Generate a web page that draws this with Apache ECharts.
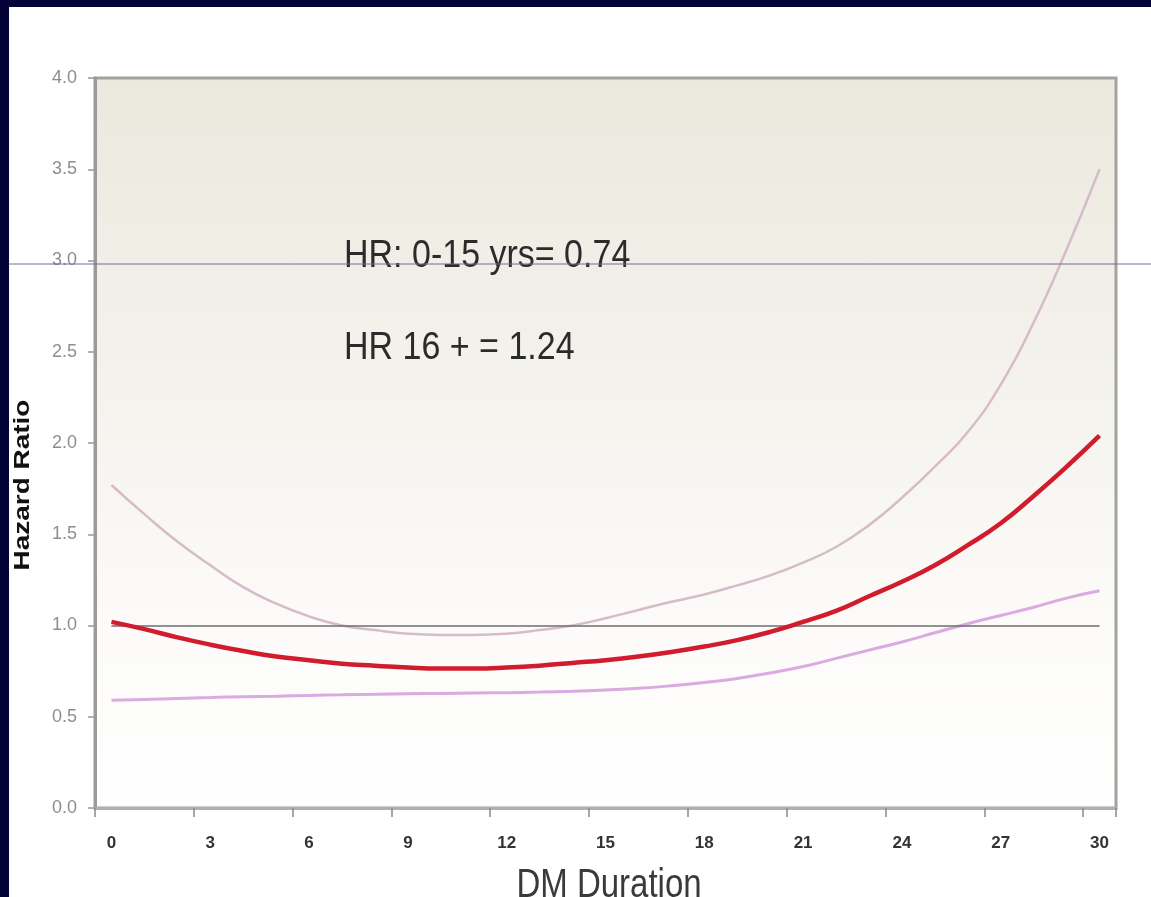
<!DOCTYPE html>
<html>
<head>
<meta charset="utf-8">
<script src="https://cdn.jsdelivr.net/npm/echarts@6/dist/echarts.min.js"></script>
<style>
  html, body { margin: 0; padding: 0; }
  body { width: 1151px; height: 897px; background: #020236; position: relative; overflow: hidden; }
  #page { position: absolute; left: 9px; top: 7px; right: 0; bottom: 0; background: #ffffff; }
  #chart { position: absolute; left: 0; top: 0; width: 1151px; height: 897px; }
</style>
</head>
<body>
<div id="page"></div>
<div id="chart"></div>
<script>
// Diabetes duration in years (one category per year)
const years = ['0','1','2','3','4','5','6','7','8','9','10','11','12','13','14','15',
               '16','17','18','19','20','21','22','23','24','25','26','27','28','29','30'];

// Hazard ratio estimate
const hazard = [1.02, 0.98, 0.935, 0.895, 0.86, 0.83, 0.81, 0.79, 0.78, 0.77, 0.765,
                0.765, 0.77, 0.78, 0.795, 0.81, 0.83, 0.855, 0.885, 0.92, 0.965,
                1.02, 1.08, 1.16, 1.24, 1.33, 1.44, 1.56, 1.71, 1.87, 2.04];

// Upper confidence bound
const upperCI = [1.77, 1.61, 1.46, 1.33, 1.21, 1.12, 1.05, 1.00, 0.975, 0.955, 0.948,
                 0.948, 0.955, 0.975, 1.00, 1.04, 1.085, 1.13, 1.17, 1.22, 1.275,
                 1.345, 1.43, 1.55, 1.70, 1.87, 2.06, 2.32, 2.66, 3.06, 3.50];

// Lower confidence bound
const lowerCI = [0.59, 0.595, 0.60, 0.605, 0.61, 0.613, 0.617, 0.62, 0.623, 0.626, 0.628,
                 0.63, 0.632, 0.635, 0.64, 0.647, 0.656, 0.67, 0.688, 0.71, 0.74,
                 0.775, 0.82, 0.865, 0.91, 0.96, 1.01, 1.055, 1.10, 1.15, 1.19];

const referenceHR = 1.0;
const annotations = ['HR: 0-15 yrs= 0.74', 'HR 16 + = 1.24'];
const xName = 'DM Duration';
const yName = 'Hazard Ratio';

const chart = echarts.init(document.getElementById('chart'), null, { renderer: 'canvas' });

const font = '"Liberation Sans", Arial, sans-serif';

chart.setOption({
  backgroundColor: 'transparent',
  animation: false,
  grid: {
    left: 95, right: 35, top: 78, bottom: 89,
    show: true,
    borderColor: '#a2a49b',
    borderWidth: 3,
    backgroundColor: new echarts.graphic.LinearGradient(0, 0, 0, 1, [
      { offset: 0, color: '#ebe8dd' },
      { offset: 0.45, color: '#f5f3ee' },
      { offset: 0.75, color: '#fcfbf9' },
      { offset: 1, color: '#ffffff' }
    ])
  },
  xAxis: {
    type: 'category',
    data: years,
    boundaryGap: true,
    axisLine: { show: true, lineStyle: { color: '#b0b0b0', width: 3 } },
    axisTick: { show: true, interval: 2, length: 9, lineStyle: { color: '#8a8a8a', width: 1.5 } },
    axisLabel: {
      interval: 2, margin: 27,
      fontFamily: font, fontSize: 17, fontWeight: 'bold', color: '#333333'
    },
    splitLine: { show: false }
  },
  yAxis: {
    type: 'value',
    min: 0, max: 4, interval: 0.5,
    axisLine: { show: true, lineStyle: { color: '#9a9a9a', width: 3 } },
    axisTick: { show: true, length: 7, lineStyle: { color: '#999999', width: 1.5 } },
    axisLabel: {
      margin: 18,
      fontFamily: font, fontSize: 18, color: '#8e8e8e',
      formatter: v => v.toFixed(1)
    },
    splitLine: { show: false }
  },
  series: [
    {
      name: 'Upper',
      type: 'line',
      data: upperCI,
      smooth: true,
      showSymbol: false,
      lineStyle: { color: '#d6bccb', width: 2.5 },
      z: 2
    },
    {
      name: 'Lower',
      type: 'line',
      data: lowerCI,
      smooth: true,
      showSymbol: false,
      lineStyle: { color: '#dbaae0', width: 3 },
      z: 2
    },
    {
      name: 'Hazard ratio',
      type: 'line',
      data: hazard,
      smooth: true,
      showSymbol: false,
      lineStyle: { color: '#d01c2c', width: 4.5 },
      z: 4,
      markLine: {
        silent: true,
        symbol: 'none',
        label: { show: false },
        lineStyle: { color: '#6e6e6e', width: 1.5, type: 'solid' },
        data: [[
          { xAxis: years[0], yAxis: referenceHR },
          { xAxis: years[years.length - 1], yAxis: referenceHR }
        ]],
        z: 3
      }
    }
  ],
  graphic: [
    {
      type: 'text',
      x: 344, y: 256,
      scaleY: 1.15,
      style: {
        text: annotations[0],
        font: '34px ' + font,
        fill: '#2b2b2b',
        align: 'left',
        verticalAlign: 'middle'
      },
      z: 10
    },
    {
      type: 'text',
      x: 344, y: 348,
      scaleY: 1.15,
      style: {
        text: annotations[1],
        font: '34px ' + font,
        fill: '#2b2b2b',
        align: 'left',
        verticalAlign: 'middle'
      },
      z: 10
    },
    {
      type: 'text',
      x: 609, y: 886,
      scaleY: 1.25,
      style: {
        text: xName,
        font: '33px ' + font,
        fill: '#3a3a3a',
        align: 'center',
        verticalAlign: 'middle'
      },
      z: 10
    },
    {
      type: 'text',
      x: 23, y: 485,
      rotation: Math.PI / 2,
      scaleX: 1.27,
      style: {
        text: yName,
        font: 'bold 22px ' + font,
        fill: '#111111',
        align: 'center',
        verticalAlign: 'middle'
      },
      z: 10
    },
    {
      // thin rule running across the slide
      type: 'line',
      shape: { x1: 9, y1: 264, x2: 1151, y2: 264 },
      style: { stroke: '#6f6f9c', lineWidth: 1 },
      z: 20
    }
  ]
});
</script>
</body>
</html>
